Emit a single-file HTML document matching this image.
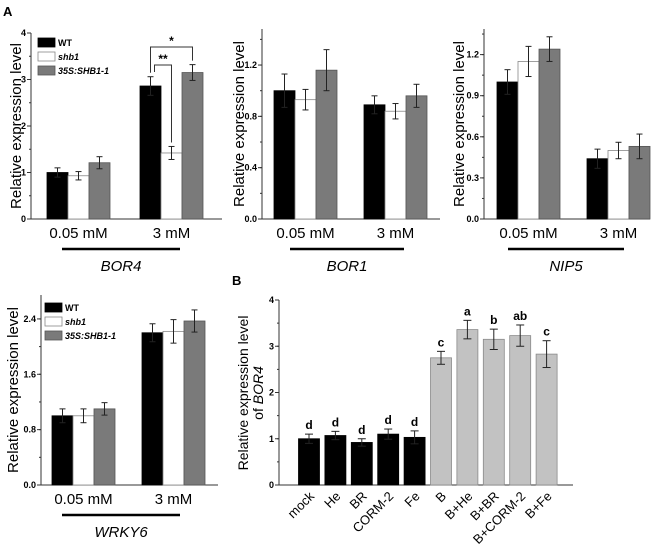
<!DOCTYPE html>
<html><head><meta charset="utf-8"><style>
html,body{margin:0;padding:0;background:#fff;}
svg{display:block;font-family:"Liberation Sans",Arial,sans-serif;}
.tk{font-size:9px;font-weight:bold;}
</style></head><body>
<svg id="fig" width="666" height="560" viewBox="0 0 666 560" xmlns="http://www.w3.org/2000/svg">
<text x="3" y="16" font-size="13" font-weight="bold">A</text>
<text x="232" y="285" font-size="13" font-weight="bold">B</text>
</svg>
<script>
const groupLabels = ["0.05 mM", "3 mM"];
const seriesNames = ["WT", "shb1", "35S:SHB1-1"];
const bor4Values = [[1.0, 0.93, 1.21], [2.86, 1.42, 3.15]];
const bor4Errors = [[0.10, 0.09, 0.13], [0.20, 0.14, 0.17]];
const bor4Ticks = ["0", "1", "2", "3", "4"];
const bor1Values = [[1.0, 0.93, 1.16], [0.89, 0.84, 0.96]];
const bor1Errors = [[0.13, 0.08, 0.16], [0.07, 0.06, 0.09]];
const bor1Ticks = ["0.0", "0.4", "0.8", "1.2"];
const nip5Values = [[1.0, 1.15, 1.24], [0.44, 0.50, 0.53]];
const nip5Errors = [[0.09, 0.11, 0.09], [0.07, 0.06, 0.09]];
const nip5Ticks = ["0.0", "0.3", "0.6", "0.9", "1.2"];
const wrky6Values = [[1.0, 1.0, 1.1], [2.2, 2.22, 2.37]];
const wrky6Errors = [[0.10, 0.10, 0.09], [0.13, 0.17, 0.16]];
const wrky6Ticks = ["0.0", "0.8", "1.6", "2.4"];
const bCategories = ["mock", "He", "BR", "CORM-2", "Fe", "B", "B+He", "B+BR", "B+CORM-2", "B+Fe"];
const bValues = [1.0, 1.07, 0.92, 1.1, 1.03, 2.75, 3.36, 3.15, 3.23, 2.83];
const bErrors = [0.10, 0.09, 0.08, 0.11, 0.14, 0.14, 0.20, 0.22, 0.23, 0.29];
const bLetters = ["d", "d", "d", "d", "d", "c", "a", "b", "ab", "c"];
const bTicks = ["0", "1", "2", "3", "4"];

const NS = "http://www.w3.org/2000/svg";
const svg = document.getElementById("fig");
function mk(tag, attrs, parent, txt) {
  const e = document.createElementNS(NS, tag);
  for (const k in attrs) e.setAttribute(k, attrs[k]);
  if (txt !== undefined) e.textContent = txt;
  (parent || svg).appendChild(e);
  return e;
}
const fills = ["#000", "#fff", "#7a7a7a"];
const strokes = ["#000", "#888", "#555"];

function errBar(g, cx, yTop, yBot, capw) {
  mk("line", {x1: cx, x2: cx, y1: yTop, y2: yBot, stroke: "#222", "stroke-width": 1}, g);
  mk("line", {x1: cx - capw, x2: cx + capw, y1: yTop, y2: yTop, stroke: "#222", "stroke-width": 1}, g);
  mk("line", {x1: cx - capw, x2: cx + capw, y1: yBot, y2: yBot, stroke: "#222", "stroke-width": 1}, g);
}

function yAxis(g, ax, y0, yPerUnit, top, ticks, minorStep) {
  mk("line", {x1: ax, x2: ax, y1: top, y2: y0, stroke: "#333", "stroke-width": 1}, g);
  const maxV = (y0 - top) / yPerUnit;
  for (let v = 0; v <= maxV + 1e-9; v += minorStep) {
    const y = y0 - v * yPerUnit;
    mk("line", {x1: ax - 2, x2: ax, y1: y, y2: y, stroke: "#333", "stroke-width": 1}, g);
  }
  ticks.forEach(t => {
    const y = y0 - parseFloat(t) * yPerUnit;
    mk("line", {x1: ax - 4, x2: ax, y1: y, y2: y, stroke: "#333", "stroke-width": 1}, g);
    const tx = mk("text", {x: ax - 5, y: y + 3, "text-anchor": "end", class: "tk"}, g, t);
    
    
  });
}

function panelA(cfg) {
  const g = mk("g", {});
  
  
  const yv = v => cfg.y0 - v * cfg.ppu;
  yAxis(g, cfg.ax, cfg.y0, cfg.ppu, cfg.top, cfg.ticks, cfg.minor);
  mk("line", {x1: cfg.ax, x2: cfg.axEnd, y1: cfg.y0, y2: cfg.y0, stroke: "#333", "stroke-width": 1}, g);
  cfg.values.forEach((grp, gi) => {
    grp.forEach((v, si) => {
      const x = cfg.groupStart[gi] + si * cfg.bw;
      const r = mk("rect", {x: x, y: yv(v), width: cfg.bw, height: cfg.y0 - yv(v), fill: fills[si], stroke: strokes[si], "stroke-width": 0.8}, g);
      
      
      const e = cfg.errors[gi][si];
      errBar(g, x + cfg.bw / 2, yv(v + e), yv(v - e), 3);
    });
    const cx = cfg.groupStart[gi] + 1.5 * cfg.bw;
    const lab = mk("text", {x: cx, y: cfg.y0 + 19, "text-anchor": "middle", "font-size": 15}, g, groupLabels[gi]);
    
    
  });
  mk("line", {x1: cfg.lineX[0], x2: cfg.lineX[1], y1: cfg.y0 + 30, y2: cfg.y0 + 30, stroke: "#000", "stroke-width": 2.5}, g);
  const gn = mk("text", {x: (cfg.lineX[0] + cfg.lineX[1]) / 2, y: cfg.y0 + 52, "text-anchor": "middle", "font-size": 15, "font-style": "italic"}, g, cfg.gene);
  
  
  const yt = mk("text", {transform: "translate(" + cfg.titleX + "," + ((cfg.y0 + cfg.top) / 2) + ") rotate(-90)", "text-anchor": "middle", "font-size": 15}, g, "Relative expression level");
  
  
  if (cfg.legend) {
    seriesNames.forEach((n, i) => {
      const ly = cfg.legend[1] + i * 14;
      const r = mk("rect", {x: cfg.legend[0], y: ly, width: 17, height: 9, fill: fills[i], stroke: strokes[i], "stroke-width": 0.8}, g);
      
      
      const t = mk("text", {x: cfg.legend[0] + 20, y: ly + 8, "font-size": 9, "font-weight": "bold", "font-style": i ? "italic" : "normal"}, g, n);
      
      
    });
  }
  return {g, yv};
}

const p1 = panelA({name: "bor4-chart", ax: 31, axEnd: 222, y0: 219, ppu: 46.5, top: 33, ticks: bor4Ticks, minor: 0.5,
  values: bor4Values, errors: bor4Errors, groupStart: [47, 140], bw: 21, lineX: [62, 180], gene: "BOR4", titleX: 21, legend: [38, 38]});
// significance brackets
(function () {
  const g = p1.g, yv = p1.yv;
  const xWT = 140 + 10.5, xShb = 140 + 31.5, xG = 140 + 52.5;
  const yS = 47;
  mk("polyline", {points: xWT + "," + (yv(bor4Values[1][0] + bor4Errors[1][0]) - 4) + " " + xWT + "," + yS + " " + xG + "," + yS + " " + xG + "," + (yv(bor4Values[1][2] + bor4Errors[1][2]) - 4), fill: "none", stroke: "#333", "stroke-width": 1}, g);
  const s1 = mk("text", {x: (xWT + xG) / 2, y: yS - 2, "text-anchor": "middle", "font-size": 12, "font-weight": "bold"}, g, "*");
  
  
  const yD = 65;
  mk("polyline", {points: (xWT + 4) + "," + (yD + 7) + " " + (xWT + 4) + "," + yD + " " + xShb + "," + yD + " " + xShb + "," + (yv(bor4Values[1][1] + bor4Errors[1][1]) - 4), fill: "none", stroke: "#333", "stroke-width": 1}, g);
  const s2 = mk("text", {x: (xWT + 4 + xShb) / 2, y: yD - 2, "text-anchor": "middle", "font-size": 12, "font-weight": "bold"}, g, "**");
  
  
})();
panelA({name: "bor1-chart", ax: 262, axEnd: 440, y0: 219, ppu: 128.3, top: 29, ticks: bor1Ticks, minor: 0.2,
  values: bor1Values, errors: bor1Errors, groupStart: [274, 364], bw: 21, lineX: [290, 404], gene: "BOR1", titleX: 244});
panelA({name: "nip5-chart", ax: 484, axEnd: 650, y0: 219, ppu: 137, top: 29, ticks: nip5Ticks, minor: 0.15,
  values: nip5Values, errors: nip5Errors, groupStart: [497, 587], bw: 21, lineX: [508, 624], gene: "NIP5", titleX: 464});
panelA({name: "wrky6-chart", ax: 41, axEnd: 218, y0: 485, ppu: 69.2, top: 295, ticks: wrky6Ticks, minor: 0.4,
  values: wrky6Values, errors: wrky6Errors, groupStart: [52, 142], bw: 21, lineX: [62, 180], gene: "WRKY6", titleX: 18, legend: [45, 303]});

// Panel B
(function () {
  const g = mk("g", {});
  
  
  const ax = 279, y0 = 485, ppu = 46.25, top = 300, bw = 21, step = 26.4, c0 = 309;
  const yv = v => y0 - v * ppu;
  const xc = i => c0 + i * step;
  yAxis(g, ax, y0, ppu, top, bTicks, 0.5);
  mk("line", {x1: ax, x2: 573, y1: y0, y2: y0, stroke: "#333", "stroke-width": 1}, g);
  bCategories.forEach((c, i) => {
    const v = bValues[i], e = bErrors[i];
    const light = i >= 5;
    const r = mk("rect", {x: xc(i) - bw / 2, y: yv(v), width: bw, height: y0 - yv(v), fill: light ? "#c2c2c2" : "#000", stroke: light ? "#8a8a8a" : "#000", "stroke-width": 0.8}, g);
    
    
    errBar(g, xc(i), yv(v + e), yv(v - e), 4);
    const l = mk("text", {x: xc(i), y: yv(v + e) - 5, "text-anchor": "middle", "font-size": 12, "font-weight": "bold"}, g, bLetters[i]);
    
    
    const t = mk("text", {transform: "translate(" + (xc(i) + 6) + "," + (y0 + 12) + ") rotate(-45)", "text-anchor": "end", "font-size": 13}, g, c);
    
    
  });
  const t1 = mk("text", {transform: "translate(248,393) rotate(-90)", "text-anchor": "middle", "font-size": 14}, g, "Relative expression level");
  
  
  const t2 = mk("text", {transform: "translate(263,393) rotate(-90)", "text-anchor": "middle", "font-size": 14}, g);
  
  
  mk("tspan", {}, t2, "of ");
  mk("tspan", {"font-style": "italic"}, t2, "BOR4");
})();
</script>
</body></html>
